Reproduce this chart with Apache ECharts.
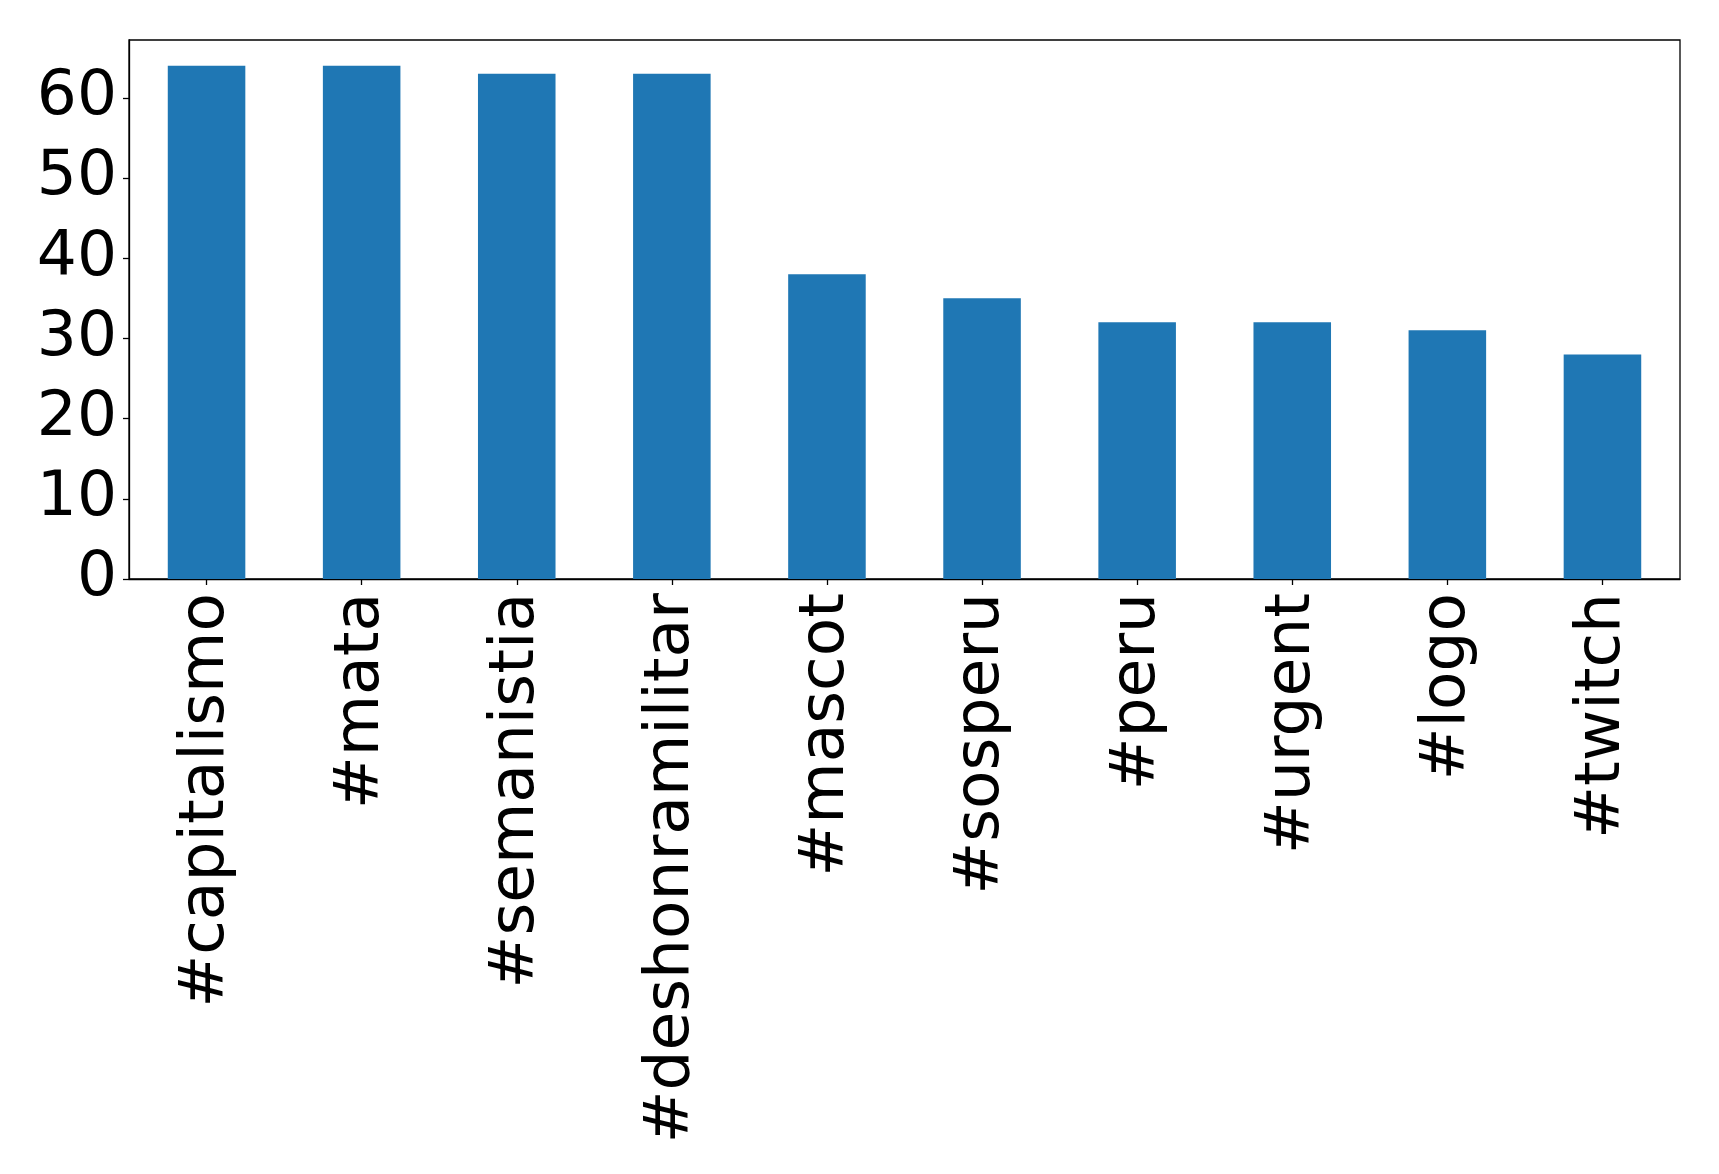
<!DOCTYPE html>
<html><head><meta charset="utf-8">
<script src="https://cdn.jsdelivr.net/npm/echarts@6/dist/echarts.min.js"></script>
<style>html,body{margin:0;padding:0;background:#fff}#c{width:1719px;height:1174px}</style>
</head><body><div id="c"></div>
<script>
const categories = ["#capitalismo","#mata","#semanistia","#deshonramilitar","#mascot","#sosperu","#peru","#urgent","#logo","#twitch"];
const counts = [64,64,63,63,38,35,32,32,31,28];
const yTicks = [0,10,20,30,40,50,60];
const yMax = 67.2;

const chart = echarts.init(document.getElementById('c'));
const font = 'DejaVu Sans';
chart.setOption({
  animation:false,
  grid:{left:129,right:39,top:40,bottom:595,show:true,borderColor:'#000',borderWidth:1.3,backgroundColor:'transparent'},
  xAxis:{type:'category',data:categories,
    axisLine:{show:true,lineStyle:{color:'#000',width:1.3}},
    axisTick:{show:true,alignWithLabel:true,length:6,lineStyle:{color:'#000',width:1.3}},
    axisLabel:{rotate:90,interval:0,margin:14,color:'#000',fontSize:63,fontFamily:font}},
  yAxis:{type:'value',min:0,max:yMax,interval:10,
    axisLine:{show:true,lineStyle:{color:'#000',width:1.3}},
    axisTick:{show:true,length:6,customValues:yTicks,lineStyle:{color:'#000',width:1.3}},
    axisLabel:{customValues:yTicks,margin:12,color:'#000',fontSize:63,fontFamily:font},
    splitLine:{show:false}},
  series:[{type:'bar',data:counts,barWidth:'50%',itemStyle:{color:'#1f77b4'}}]
});
</script></body></html>
